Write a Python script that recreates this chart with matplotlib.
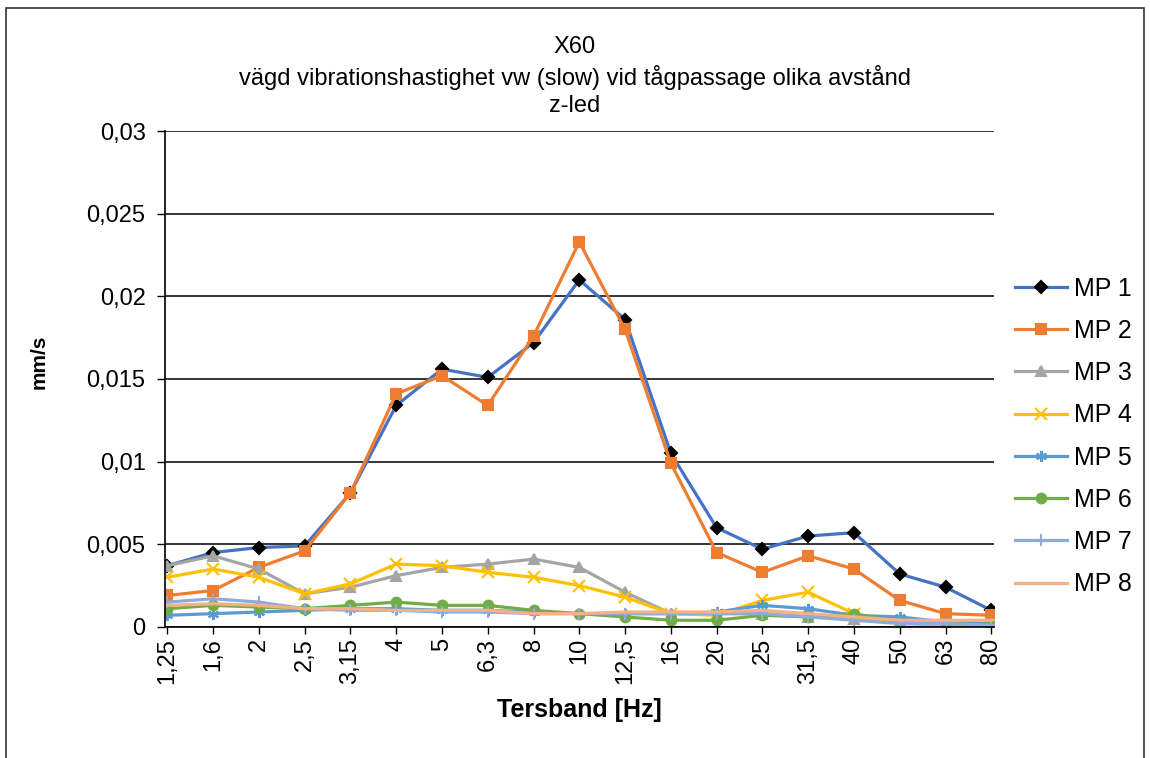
import matplotlib.pyplot as plt
from matplotlib.patches import Rectangle
from matplotlib.ticker import FuncFormatter, MultipleLocator

plt.rcParams['font.family'] = ['Liberation Sans', 'DejaVu Sans']

# tersband [Hz]
band = ["1,25", "1,6", "2", "2,5", "3,15", "4", "5", "6,3", "8", "10",
        "12,5", "16", "20", "25", "31,5", "40", "50", "63", "80"]

mp1 = [0.0037, 0.0045, 0.0048, 0.0049, 0.0081, 0.0134, 0.0156, 0.0151, 0.0172, 0.0210,
       0.0186, 0.0105, 0.0060, 0.0047, 0.0055, 0.0057, 0.0032, 0.0024, 0.0010]
mp2 = [0.0019, 0.0022, 0.0036, 0.0046, 0.0081, 0.0141, 0.0152, 0.0134, 0.0176, 0.0233,
       0.0180, 0.0099, 0.0045, 0.0033, 0.0043, 0.0035, 0.0016, 0.0008, 0.0007]
mp3 = [0.0037, 0.0043, 0.0035, 0.0020, 0.0024, 0.0031, 0.0036, 0.0038, 0.0041, 0.0036,
       0.0021, 0.0008, 0.0008, 0.0008, 0.0006, 0.0005, 0.0003, 0.0002, 0.0002]
mp4 = [0.0030, 0.0035, 0.0030, 0.0020, 0.0026, 0.0038, 0.0037, 0.0033, 0.0030, 0.0025,
       0.0018, 0.0008, 0.0007, 0.0016, 0.0021, 0.0008, 0.0002, 0.0001, 0.0001]
mp5 = [0.0007, 0.0008, 0.0009, 0.0010, 0.0011, 0.0011, 0.0010, 0.0010, 0.0009, 0.0008,
       0.0008, 0.0008, 0.0009, 0.0013, 0.0011, 0.0007, 0.0006, 0.0003, 0.0002]
mp6 = [0.0011, 0.0013, 0.0012, 0.0011, 0.0013, 0.0015, 0.0013, 0.0013, 0.0010, 0.0008,
       0.0006, 0.0004, 0.0004, 0.0007, 0.0006, 0.0008, 0.0003, 0.0002, 0.0001]
mp7 = [0.0015, 0.0017, 0.0015, 0.0011, 0.0010, 0.0010, 0.0009, 0.0009, 0.0008, 0.0008,
       0.0008, 0.0008, 0.0008, 0.0008, 0.0006, 0.0004, 0.0002, 0.0002, 0.0001]
mp8 = [0.0013, 0.0014, 0.0013, 0.0011, 0.0011, 0.0010, 0.0010, 0.0010, 0.0008, 0.0008,
       0.0009, 0.0009, 0.0009, 0.0010, 0.0008, 0.0006, 0.0004, 0.0004, 0.0004]

series = [
    ("MP 1", mp1, "#4472C4", "D", "black", 6),
    ("MP 2", mp2, "#ED7D31", "s", "#ED7D31", 7),
    ("MP 3", mp3, "#A5A5A5", "^", "#A5A5A5", 7),
    ("MP 4", mp4, "#FFC000", "x", "#FFC000", 8),
    ("MP 5", mp5, "#5B9BD5", (6, 2, 0), "#5B9BD5", 8),
    ("MP 6", mp6, "#70AD47", "o", "#70AD47", 7),
    ("MP 7", mp7, "#8FAADC", "+", "#8FAADC", 9),
    ("MP 8", mp8, "#F4B183", "_", "#F4B183", 8),
]

fig = plt.figure(figsize=(11.5, 7.58), dpi=100)
ax = fig.add_axes([0.1435, 0.173, 0.7205, 0.654])

x = list(range(len(band)))
for name, vals, col, mk, mcol, ms in series:
    ax.plot(x, vals, color=col, lw=2.3, marker=mk, markersize=ms,
            markerfacecolor=mcol, markeredgecolor=mcol, markeredgewidth=1.5,
            label=name)

ax.set_xlim(-0.05, len(band) - 1 + 0.05)
ax.set_ylim(0, 0.03)
ax.yaxis.set_major_locator(MultipleLocator(0.005))
ax.yaxis.set_major_formatter(FuncFormatter(
    lambda v, p: "0" if abs(v) < 1e-12 else ("%g" % round(v, 4)).replace(".", ",")))
ax.grid(axis="y", color="black", lw=1.1)
ax.set_axisbelow(True)

ax.set_xticks(x)
ax.set_xticklabels(band, rotation=90, fontsize=17)
ax.tick_params(axis="y", labelsize=17, length=6, width=1, color="black", pad=8)
ax.tick_params(axis="x", length=5, width=1, color="black", pad=3)
for s in ["top", "right"]:
    ax.spines[s].set_visible(False)
for s in ["left", "bottom"]:
    ax.spines[s].set_color("black")
    ax.spines[s].set_linewidth(1.2)

ax.set_xlabel("Tersband [Hz]", fontsize=18, fontweight="bold", labelpad=10)
ax.set_ylabel("mm/s", fontsize=15, fontweight="bold")
ax.yaxis.set_label_coords(-0.14, 0.534)

fig.text(0.5, 0.938, "X60", ha="center", va="center", fontsize=17)
fig.text(0.5, 0.898, "vägd vibrationshastighet vw (slow) vid tågpassage olika avstånd",
         ha="center", va="center", fontsize=17)
fig.text(0.5, 0.860, "z-led", ha="center", va="center", fontsize=17)

ax.legend(loc="center left", bbox_to_anchor=(0.863, 0.424), bbox_transform=fig.transFigure,
          frameon=False, fontsize=18, handlelength=2.1, labelspacing=0.73,
          handletextpad=0.25)

fig.patches.append(Rectangle((0.005, -0.01), 0.99, 1.0, transform=fig.transFigure,
                             fill=False, edgecolor="#333333", lw=1.2))

fig.savefig("out.png", dpi=100)
